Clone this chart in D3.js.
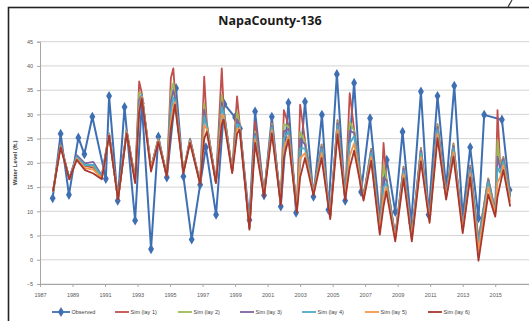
<!DOCTYPE html>
<html>
<head>
<meta charset="utf-8">
<script src="https://cdn.jsdelivr.net/npm/d3@7"></script>
<style>
  html, body { margin: 0; padding: 0; background: #fff; }
  svg { display: block; }
</style>
</head>
<body>
<svg id="chart" width="529" height="321"></svg>
<script>
// Well NapaCounty-136: observed water level vs. simulated levels for model layers 1-6

const chartTitle = "NapaCounty-136";
const yAxisTitle = "Water Level (ft.)";

const obsYear = [1987.78, 1988.27, 1988.78, 1989.36, 1989.73, 1990.22, 1991.05, 1991.25, 1991.78, 1992.2,
  1992.85, 1993.26, 1993.83, 1994.28, 1994.8, 1995.37, 1995.82, 1996.33, 1996.85, 1997.2,
  1997.83, 1998.34, 1999.0, 1999.3, 1999.88, 2000.23, 2000.78, 2001.26, 2001.81, 2002.28,
  2002.75, 2003.3, 2003.82, 2004.34, 2004.74, 2005.26, 2005.77, 2006.32, 2006.75, 2007.3,
  2007.9, 2008.33, 2008.85, 2009.3, 2009.83, 2010.43, 2010.9, 2011.45, 2011.98, 2012.48,
  2013.0, 2013.46, 2013.97, 2014.32, 2015.41, 2015.88];
const obsLevel = [12.7, 26.0, 13.4, 25.2, 21.8, 29.5, 16.7, 33.8, 12.2, 31.5,
  8.1, 32.3, 2.2, 25.4, 17.0, 35.4, 17.2, 4.2, 15.5, 23.2,
  9.3, 32.1, 29.4, 27.1, 8.2, 30.6, 13.3, 29.5, 11.0, 32.4,
  9.7, 32.6, 13.0, 29.9, 10.3, 38.3, 12.2, 36.5, 14.0, 29.2,
  8.9, 20.6, 9.9, 26.4, 7.6, 34.7, 9.3, 33.8, 14.8, 35.9,
  8.9, 23.2, 8.6, 29.9, 28.9, 14.4];

const simYear = [1987.8, 1988.27, 1988.8, 1989.26, 1989.77, 1990.28, 1990.8, 1991.25, 1991.8, 1992.33,
  1992.85, 1993.1, 1993.26, 1993.83, 1994.28, 1994.8, 1995.05, 1995.2, 1995.3, 1995.82,
  1996.23, 1996.85, 1997.1, 1997.26, 1997.82, 1998.18, 1998.3, 1998.82, 1999.12, 1999.28,
  1999.88, 2000.23, 2000.78, 2001.26, 2001.81, 2002.0, 2002.28, 2002.8, 2003.0, 2003.3,
  2003.82, 2004.32, 2004.85, 2005.3, 2005.77, 2006.05, 2006.32, 2006.9, 2007.37, 2007.9,
  2008.13, 2008.3, 2008.85, 2009.36, 2009.87, 2010.43, 2010.96, 2011.45, 2011.98, 2012.43,
  2013.0, 2013.46, 2013.97, 2014.57, 2015.0, 2015.14, 2015.3, 2015.5, 2015.92];

const simLay1 = [14.1, 23.9, 16.8, 21.3, 19.4, 19.0, 16.8, 26.0, 12.5, 26.8,
  16.5, 36.8, 34.4, 19.0, 25.0, 17.4, 37.5, 39.5, 34.5, 18.1,
  25.0, 15.8, 37.8, 28.2, 16.0, 39.5, 31.0, 18.3, 33.7, 28.1,
  6.7, 28.5, 13.6, 28.3, 11.8, 30.9, 27.8, 10.3, 32.0, 24.6,
  14.0, 23.8, 9.1, 28.8, 13.0, 34.4, 26.9, 12.9, 22.9, 6.5,
  24.1, 17.0, 4.9, 19.2, 4.9, 23.1, 8.6, 28.0, 13.3, 24.0,
  6.6, 19.4, 4.2, 16.8, 10.0, 30.9, 19.5, 21.2, 13.5];
const simLay2 = [14.1, 23.8, 16.8, 21.4, 19.6, 19.4, 17.0, 26.0, 12.5, 26.7,
  16.5, 34.5, 34.2, 19.0, 25.0, 17.4, 34.5, 36.5, 34.0, 18.1,
  24.9, 15.8, 32.3, 28.0, 16.0, 34.0, 30.9, 18.3, 30.5, 28.0,
  6.7, 26.5, 13.6, 28.0, 11.8, 28.0, 27.5, 10.3, 26.4, 24.3,
  14.0, 23.6, 9.1, 28.5, 13.0, 28.5, 26.6, 12.9, 22.7, 6.5,
  19.5, 16.8, 4.9, 19.0, 4.9, 22.9, 8.6, 27.8, 13.3, 23.8,
  6.6, 19.2, 4.0, 16.7, 10.0, 24.7, 19.2, 21.0, 13.4];
const simLay3 = [14.1, 23.8, 16.8, 21.6, 19.9, 20.2, 17.4, 26.1, 12.5, 26.6,
  16.5, 33.0, 34.1, 19.0, 24.9, 17.4, 32.5, 35.0, 33.5, 18.1,
  24.8, 15.8, 31.0, 27.8, 16.0, 32.5, 30.6, 18.3, 29.0, 27.9,
  6.7, 26.0, 13.6, 27.7, 11.8, 26.5, 27.0, 10.3, 25.0, 23.8,
  14.0, 23.3, 9.1, 28.2, 13.0, 26.6, 26.2, 12.9, 22.5, 6.5,
  17.0, 16.4, 4.9, 18.8, 4.9, 22.6, 8.6, 27.4, 13.3, 23.5,
  6.6, 19.0, 3.8, 16.5, 10.0, 21.3, 18.8, 20.8, 13.2];
const simLay4 = [14.1, 23.6, 16.7, 21.3, 19.5, 19.6, 17.2, 26.0, 12.5, 26.5,
  16.4, 32.2, 33.9, 19.0, 24.8, 17.4, 30.5, 33.5, 33.0, 18.1,
  24.6, 15.8, 29.7, 27.5, 16.0, 31.5, 30.2, 18.3, 28.0, 27.6,
  6.6, 25.5, 13.5, 27.3, 11.7, 25.0, 26.4, 10.2, 23.0, 23.0,
  13.9, 22.8, 9.0, 27.6, 12.9, 24.0, 25.5, 12.8, 22.0, 6.3,
  15.0, 15.8, 4.7, 18.3, 4.7, 22.0, 8.4, 26.8, 13.1, 23.0,
  6.4, 18.5, 3.2, 16.0, 9.8, 19.0, 18.0, 20.3, 12.8];
const simLay5 = [14.1, 23.4, 16.6, 20.9, 18.9, 18.6, 16.8, 25.8, 12.4, 26.3,
  16.2, 31.2, 33.6, 18.8, 24.6, 17.3, 28.5, 31.5, 32.5, 18.0,
  24.4, 15.7, 27.8, 27.0, 15.9, 30.0, 29.6, 18.1, 27.0, 27.2,
  6.4, 24.8, 13.3, 26.7, 11.5, 23.0, 25.6, 10.0, 21.0, 22.0,
  13.6, 22.0, 8.7, 26.8, 12.6, 21.5, 24.0, 12.5, 21.2, 5.8,
  13.0, 15.0, 4.3, 17.6, 4.3, 21.2, 8.0, 26.0, 12.8, 22.2,
  6.0, 17.8, 1.8, 15.0, 9.4, 16.0, 17.0, 19.5, 12.0];
const simLay6 = [14.1, 23.2, 16.6, 20.6, 18.5, 17.8, 16.6, 25.6, 12.4, 26.1,
  15.8, 30.5, 33.3, 18.2, 24.3, 17.2, 27.0, 30.0, 32.0, 17.9,
  24.1, 15.6, 25.0, 26.4, 15.8, 28.0, 28.9, 17.9, 26.0, 26.8,
  6.2, 24.1, 13.0, 26.1, 11.3, 21.0, 24.8, 9.8, 17.0, 21.0,
  13.3, 21.0, 8.4, 25.9, 12.3, 19.0, 22.5, 12.2, 20.4, 5.2,
  11.0, 14.1, 3.8, 16.8, 3.8, 20.3, 7.6, 25.1, 12.4, 21.3,
  5.5, 17.0, -0.2, 13.5, 8.9, 13.0, 15.5, 18.5, 11.0];

const seriesNames = ["Observed", "Sim (lay 1)", "Sim (lay 2)", "Sim (lay 3)", "Sim (lay 4)", "Sim (lay 5)", "Sim (lay 6)"];
const yearTicks = [1987, 1989, 1991, 1993, 1995, 1997, 1999, 2001, 2003, 2005, 2007, 2009, 2011, 2013, 2015];
const levelTicks = [-5, 0, 5, 10, 15, 20, 25, 30, 35, 40, 45];

const colors = ["#3f6fb3", "#c0504d", "#9bbb59", "#8064a2", "#4bacc6", "#f79646", "#a8372f"];

const svg = d3.select("#chart");

// outer chart frame
svg.append("rect")
  .attr("x", 8.5).attr("y", 7.5).attr("width", 560).attr("height", 340)
  .attr("fill", "#fff").attr("stroke", "#222").attr("stroke-width", 1.6);
svg.append("line")
  .attr("x1", 512).attr("y1", 0).attr("x2", 508).attr("y2", 7)
  .attr("stroke", "#333").attr("stroke-width", 1.2);

const x = d3.scaleLinear().domain([1987, 2017.2]).range([40, 531]);
const y = d3.scaleLinear().domain([-5, 45]).range([284, 41.7]);

// title
svg.append("text")
  .attr("x", 270).attr("y", 25)
  .attr("text-anchor", "middle")
  .attr("font-family", "'Open Sans', 'Noto Sans', sans-serif")
  .attr("font-weight", "bold").attr("font-size", 12.5)
  .attr("fill", "#1a1a1a")
  .text(chartTitle);

// horizontal gridlines
svg.append("g").selectAll("line").data(levelTicks).join("line")
  .attr("x1", 40).attr("x2", 531)
  .attr("y1", d => y(d)).attr("y2", d => y(d))
  .attr("stroke", "#d4d4d4").attr("stroke-width", 1);

// y axis
const yAxis = d3.axisLeft(y).tickValues(levelTicks).tickSize(3).tickPadding(4);
const gy = svg.append("g").attr("transform", "translate(40,0)").call(yAxis);
gy.select(".domain").attr("stroke", "#a6a6a6");
gy.selectAll(".tick line").attr("stroke", "#a6a6a6");
gy.selectAll(".tick text")
  .attr("font-family", "'Liberation Sans', sans-serif").attr("font-size", 5.5).attr("fill", "#595959");

// x axis along the -5 line
const xAxis = d3.axisBottom(x).tickValues(yearTicks).tickFormat(d3.format("d")).tickSize(3).tickPadding(6);
const gx = svg.append("g").attr("transform", `translate(0,${y(-5)})`).call(xAxis);
gx.select(".domain").attr("stroke", "#a6a6a6");
gx.selectAll(".tick line").attr("stroke", "#a6a6a6");
gx.selectAll(".tick text")
  .attr("font-family", "'Liberation Sans', sans-serif").attr("font-size", 5.5).attr("fill", "#595959");

// y axis title
svg.append("text")
  .attr("transform", `translate(17,${(y(45) + y(-5)) / 2}) rotate(-90)`)
  .attr("text-anchor", "middle")
  .attr("font-family", "'Liberation Sans', sans-serif")
  .attr("font-weight", "bold").attr("font-size", 6)
  .attr("fill", "#404040")
  .text(yAxisTitle);

const plot = svg.append("g");

// observed series (drawn first, under the simulations)
const obs = obsYear.map((t, i) => ({ t, v: obsLevel[i] }));
const line = d3.line().x(d => x(d.t)).y(d => y(d.v));
plot.append("path").datum(obs)
  .attr("d", line).attr("fill", "none")
  .attr("stroke", colors[0]).attr("stroke-width", 2).attr("stroke-linejoin", "round");
const diamond = d3.symbol().type(d3.symbolDiamond).size(30);
plot.selectAll(".obs").data(obs).join("path")
  .attr("class", "obs")
  .attr("transform", d => `translate(${x(d.t)},${y(d.v)})`)
  .attr("d", diamond).attr("fill", colors[0]);

// simulated layers 1 to 6
const sims = [simLay1, simLay2, simLay3, simLay4, simLay5, simLay6];
sims.forEach((vals, k) => {
  const pts = simYear.map((t, i) => ({ t, v: vals[i] }));
  plot.append("path").datum(pts)
    .attr("d", line).attr("fill", "none")
    .attr("stroke", colors[k + 1]).attr("stroke-width", 1.8).attr("stroke-linejoin", "round");
});

// legend
const legendX = [52, 115, 178, 240, 302, 365, 428];
const lg = svg.append("g").attr("transform", "translate(0,312)");
seriesNames.forEach((name, i) => {
  const g = lg.append("g").attr("transform", `translate(${legendX[i]},0)`);
  const w = i === 0 ? 18 : 14;
  g.append("line").attr("x1", 0).attr("x2", w).attr("y1", 0).attr("y2", 0)
    .attr("stroke", colors[i]).attr("stroke-width", 1.8);
  if (i === 0) {
    g.append("path").attr("transform", `translate(${w / 2},0)`).attr("d", diamond).attr("fill", colors[0]);
  }
  g.append("text").attr("x", w + 1.5).attr("y", 2)
    .attr("font-family", "'Liberation Sans', sans-serif").attr("font-size", 5.5).attr("fill", "#404040")
    .text(name);
});
</script>
</body>
</html>
